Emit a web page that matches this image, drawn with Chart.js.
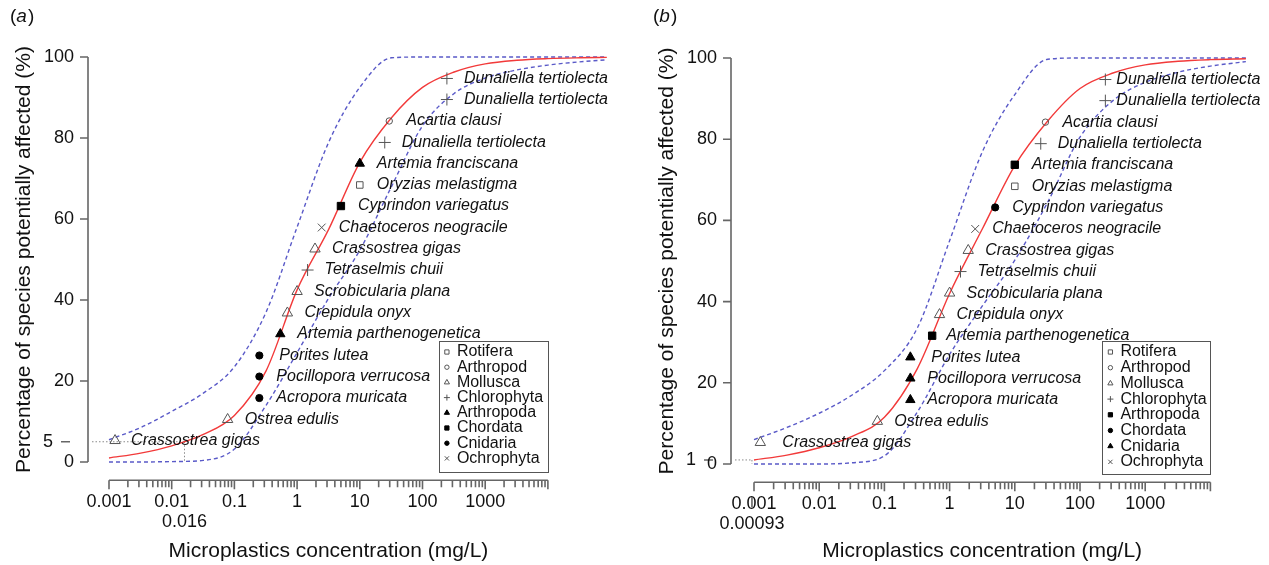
<!DOCTYPE html>
<html>
<head>
<meta charset="utf-8">
<script src="https://cdn.jsdelivr.net/npm/chart.js@4.4.1/dist/chart.umd.min.js"></script>
<style>
  body { margin: 0; background: #fff; }
  #wrap { position: relative; width: 1269px; height: 565px; }
  canvas { position: absolute; top: 0; }
</style>
</head>
<body>
<div id="wrap">
  <canvas id="chartA" width="634" height="565" style="left:0"></canvas>
  <canvas id="chartB" width="635" height="565" style="left:634px"></canvas>
</div>
<script>
// species ranked from least to most sensitive... bottom to top on the SSD
var species = ['Crassostrea gigas', 'Ostrea edulis', 'Acropora muricata', 'Pocillopora verrucosa',
  'Porites lutea', 'Artemia parthenogenetica', 'Crepidula onyx', 'Scrobicularia plana',
  'Tetraselmis chuii', 'Crassostrea gigas', 'Chaetoceros neogracile', 'Cyprindon variegatus',
  'Oryzias melastigma', 'Artemia franciscana', 'Dunaliella tertiolecta', 'Acartia clausi',
  'Dunaliella tertiolecta', 'Dunaliella tertiolecta'];
var groups = ['Mollusca', 'Mollusca', 'Cnidaria', 'Cnidaria', 'Cnidaria', 'Arthropoda', 'Mollusca',
  'Mollusca', 'Chlorophyta', 'Mollusca', 'Ochrophyta', 'Chordata', 'Rotifera', 'Arthropoda',
  'Chlorophyta', 'Arthropod', 'Chlorophyta', 'Chlorophyta'];
var conc = [0.00125, 0.078, 0.25, 0.25, 0.25, 0.54, 0.70, 1.0, 1.47, 1.93, 2.47, 5.0, 10, 10, 25, 29.5, 245, 245];
var affected = [5.3, 10.5, 15.8, 21.1, 26.3, 31.6, 36.8, 42.1, 47.4, 52.6, 57.9, 63.2, 68.4, 73.7, 78.9, 84.2, 89.5, 94.7];

var phyla = ['Rotifera', 'Arthropod', 'Mollusca', 'Chlorophyta', 'Arthropoda', 'Chordata', 'Cnidaria', 'Ochrophyta'];

// fitted SSD and its confidence band
var gridA = [0.001, 0.0032, 0.01, 0.032, 0.1, 0.32, 1, 3.2, 10, 32, 100, 320, 1000, 3200, 10000, 32000, 87000];
var fitA = [1.0, 2.2, 4.0, 6.8, 11.5, 22.5, 42.5, 57.5, 74, 85, 92.5, 96.3, 98.3, 99.2, 99.6, 99.8, 99.9];
var upperA = [5.5, 8.5, 12.5, 17, 23.5, 37, 58, 79, 92.5, 99.8, 100, 100, 100, 100, 100, 100, 100];
var lowerA = [0, 0, 0.1, 0.4, 3.2, 14, 27, 40.5, 52.3, 68, 83, 91, 94.8, 96.8, 98, 98.8, 99.3];

var gridB = [0.001, 0.0032, 0.01, 0.032, 0.1, 0.32, 1, 3.2, 10, 32, 100, 320, 1000, 3200, 10000, 35000];
var fitB = [1.0, 2.2, 4.0, 6.8, 11.5, 23.5, 42, 58, 73.5, 84.5, 92.5, 96.3, 98.3, 99.2, 99.6, 99.8];
var upperB = [6, 9, 12.5, 17, 23, 33.5, 55, 77, 91, 99.7, 100, 100, 100, 100, 100, 100];
var lowerB = [0, 0, 0, 0.3, 2, 12.8, 27, 39, 50.2, 64.5, 80.5, 89.5, 94, 96.5, 98, 99.1];

// hazard concentrations: HC5 in (a), HC1 in (b)
var hcLevel = [5, 1];
var hcConc = [0.016, 0.00093];
var hcLabel = ['0.016', '0.00093'];

var xTicks = [0.001, 0.01, 0.1, 1, 10, 100, 1000];
var xTickLabels = ['0.001', '0.01', '0.1', '1', '10', '100', '1000'];
var yTicks = [0, 20, 40, 60, 80, 100];

var FONT = '"Liberation Sans", Arial, sans-serif';

var symbolsA = {
  Rotifera: ['rect', false], Arthropod: ['circle', false], Mollusca: ['triangle', false],
  Chlorophyta: ['cross', false], Arthropoda: ['triangle', true], Chordata: ['rect', true],
  Cnidaria: ['circle', true], Ochrophyta: ['crossRot', false]
};
var symbolsB = {
  Rotifera: ['rect', false], Arthropod: ['circle', false], Mollusca: ['triangle', false],
  Chlorophyta: ['cross', false], Arthropoda: ['rect', true], Chordata: ['circle', true],
  Cnidaria: ['triangle', true], Ochrophyta: ['crossRot', false]
};

function markerRadius(style, filled) {
  if (style === 'rect') return filled ? 5.2 : 4.6;
  if (style === 'circle') return filled ? 3.6 : 3.2;
  if (style === 'triangle') return filled ? 5.4 : 6;
  if (style === 'cross') return 6;
  return 5.5;
}

function drawMarker(ctx, style, filled, x, y, r) {
  ctx.beginPath();
  if (style === 'rect') {
    var h = r * Math.SQRT1_2;
    ctx.rect(x - h, y - h, 2 * h, 2 * h);
  } else if (style === 'circle') {
    ctx.arc(x, y, r, 0, Math.PI * 2);
  } else if (style === 'triangle') {
    ctx.moveTo(x, y - r);
    ctx.lineTo(x + r * 0.866, y + r * 0.5);
    ctx.lineTo(x - r * 0.866, y + r * 0.5);
    ctx.closePath();
  } else if (style === 'cross') {
    ctx.moveTo(x - r, y); ctx.lineTo(x + r, y);
    ctx.moveTo(x, y - r); ctx.lineTo(x, y + r);
  } else {
    var d = r * Math.SQRT1_2;
    ctx.moveTo(x - d, y - d); ctx.lineTo(x + d, y + d);
    ctx.moveTo(x - d, y + d); ctx.lineTo(x + d, y - d);
  }
  if (filled) { ctx.fillStyle = '#000'; ctx.fill(); }
  ctx.strokeStyle = filled ? '#000' : '#555';
  ctx.lineWidth = 1;
  ctx.stroke();
}

function curve(grid, vals, color, dash) {
  return {
    type: 'line',
    data: grid.map(function (g, i) { return { x: g, y: vals[i] }; }),
    borderColor: color,
    borderWidth: 1.4,
    borderDash: dash,
    pointRadius: 0,
    cubicInterpolationMode: 'monotone',
    fill: false
  };
}

function pointSets(symbols) {
  return phyla.map(function (ph) {
    var s = symbols[ph];
    var pts = [];
    for (var i = 0; i < species.length; i++) {
      if (groups[i] === ph) pts.push({ x: conc[i], y: affected[i] });
    }
    return {
      type: 'scatter',
      label: ph,
      data: pts,
      pointStyle: s[0],
      pointRadius: markerRadius(s[0], s[1]),
      pointBorderWidth: 1,
      pointBorderColor: s[1] ? '#000' : '#555',
      pointBackgroundColor: s[1] ? '#000' : 'rgba(0,0,0,0)'
    };
  });
}

function overlay(p) {
  return {
    id: 'overlay' + p.letter,
    beforeDatasetsDraw: function (chart) {
      var ctx = chart.ctx, xs = chart.scales.x, ys = chart.scales.y;
      var left = chart.chartArea.left;
      var hx = xs.getPixelForValue(hcConc[p.idx]);
      var hy = ys.getPixelForValue(hcLevel[p.idx]);
      ctx.save();
      ctx.strokeStyle = '#8a8a8a';
      ctx.lineWidth = 1;
      ctx.setLineDash([1.5, 2]);
      ctx.beginPath();
      ctx.moveTo(left + 4, hy); ctx.lineTo(hx, hy);
      ctx.moveTo(hx, hy); ctx.lineTo(hx, ys.getPixelForValue(0));
      ctx.stroke();
      ctx.restore();
    },
    afterDraw: function (chart) {
      var ctx = chart.ctx, xs = chart.scales.x, ys = chart.scales.y;
      var area = chart.chartArea;
      var left = area.left, y0 = area.bottom + 2;
      var x1 = xs.getPixelForValue(0.001), x2 = xs.getPixelForValue(10000);
      ctx.save();
      ctx.strokeStyle = '#666';
      ctx.lineWidth = 1.6;
      ctx.fillStyle = '#111';

      // y axis
      ctx.beginPath();
      ctx.moveTo(left, ys.getPixelForValue(0));
      ctx.lineTo(left, ys.getPixelForValue(100));
      yTicks.forEach(function (v) {
        var y = ys.getPixelForValue(v);
        ctx.moveTo(left - 8, y); ctx.lineTo(left, y);
      });
      var hy = ys.getPixelForValue(hcLevel[p.idx]);
      ctx.moveTo(left - 27, hy); ctx.lineTo(left - 18, hy);
      ctx.stroke();
      ctx.font = '18px ' + FONT;
      ctx.textAlign = 'right';
      ctx.textBaseline = 'middle';
      yTicks.forEach(function (v) {
        ctx.fillText(String(v), left - 14, ys.getPixelForValue(v));
      });
      ctx.fillText(String(hcLevel[p.idx]), left - 35, hy);

      // x axis
      ctx.beginPath();
      ctx.moveTo(x1, y0); ctx.lineTo(x2, y0);
      for (var d = -3; d <= 4; d++) {
        var base = Math.pow(10, d);
        var xp = xs.getPixelForValue(base);
        ctx.moveTo(xp, y0); ctx.lineTo(xp, y0 + 9);
        if (d < 4) {
          for (var k = 2; k <= 9; k++) {
            var xm = xs.getPixelForValue(k * base);
            ctx.moveTo(xm, y0); ctx.lineTo(xm, y0 + 7);
          }
        }
      }
      if (p.hcTick) {
        var hx = xs.getPixelForValue(hcConc[p.idx]);
        ctx.moveTo(hx, y0 + 15); ctx.lineTo(hx, y0 + 25);
      }
      ctx.stroke();
      ctx.textAlign = 'center';
      xTicks.forEach(function (v, i) {
        ctx.fillText(xTickLabels[i], xs.getPixelForValue(v), y0 + 22);
      });
      ctx.fillText(hcLabel[p.idx], xs.getPixelForValue(hcConc[p.idx]), y0 + 42);

      // axis titles
      ctx.font = '21px ' + FONT;
      ctx.fillText('Microplastics concentration (mg/L)', (x1 + x2) / 2, chart.height - 14);
      ctx.save();
      ctx.translate(left - 64, (ys.getPixelForValue(0) + ys.getPixelForValue(100)) / 2);
      ctx.rotate(-Math.PI / 2);
      ctx.fillText('Percentage of species potentially affected (%)', 0, 0);
      ctx.restore();

      // panel letter
      ctx.textAlign = 'left';
      ctx.font = '19px ' + FONT;
      var lx = left - 78;
      ctx.fillText('(', lx, 17);
      lx += ctx.measureText('(').width;
      ctx.font = 'italic 19px ' + FONT;
      ctx.fillText(p.letter, lx, 17);
      lx += ctx.measureText(p.letter).width + 1;
      ctx.font = '19px ' + FONT;
      ctx.fillText(')', lx, 17);

      // species labels
      ctx.font = 'italic 16px ' + FONT;
      for (var i = 0; i < species.length; i++) {
        var dx = p.labelDx[i] !== undefined ? p.labelDx[i] : 17;
        ctx.fillText(species[i], xs.getPixelForValue(conc[i]) + dx, ys.getPixelForValue(affected[i]));
      }

      // legend
      var bw = p.legendW, bh = p.legendH;
      var bx = x2 - bw, by = p.legendTop;
      ctx.lineWidth = 1;
      ctx.strokeStyle = '#555';
      ctx.strokeRect(Math.round(bx) + 0.5, by + 0.5, bw, bh);
      ctx.font = '16px ' + FONT;
      phyla.forEach(function (ph, j) {
        var yy = by + 11 + j * p.rowGap;
        var s = p.symbols[ph];
        drawMarker(ctx, s[0], s[1], bx + 8, yy, s[0] === 'circle' ? 2.2 : 3);
        ctx.fillStyle = '#111';
        ctx.fillText(ph, bx + 18, yy);
      });
      ctx.restore();
    }
  };
}

function makeChart(id, p, grid, fit, upper, lower) {
  var blue = '#5a5ac8';
  var datasets = pointSets(p.symbols).concat([
    curve(grid, fit, '#f23a3a', []),
    curve(grid, upper, blue, [4, 3]),
    curve(grid, lower, blue, [4, 3])
  ]);
  return new Chart(document.getElementById(id), {
    type: 'scatter',
    data: { datasets: datasets },
    options: {
      responsive: false,
      animation: false,
      devicePixelRatio: 1,
      events: [],
      layout: { padding: p.padding },
      plugins: { legend: { display: false }, tooltip: { enabled: false } },
      scales: {
        x: { type: 'logarithmic', min: p.xMin, max: p.xMax, bounds: 'data', display: false },
        y: { type: 'linear', min: -4, max: 104, bounds: 'data', display: false }
      }
    },
    plugins: [overlay(p)]
  });
}

var panelA = {
  letter: 'a', idx: 0, symbols: symbolsA, hcTick: false,
  padding: { left: 88, right: 11, top: 40.8, bottom: 86.8 },
  xMin: 4.625e-4, xMax: 157700,
  legendTop: 341, legendW: 109, legendH: 131, rowGap: 15.2,
  labelDx: { 0: 16, 4: 20 }
};
var panelB = {
  letter: 'b', idx: 1, symbols: symbolsB, hcTick: true,
  padding: { left: 97, right: 13, top: 41.76, bottom: 84.76 },
  xMin: 4.438e-4, xMax: 50050,
  legendTop: 341, legendW: 108, legendH: 133, rowGap: 15.7,
  labelDx: { 0: 22, 4: 21, 5: 14, 16: 11, 17: 11 }
};

makeChart('chartA', panelA, gridA, fitA, upperA, lowerA);
makeChart('chartB', panelB, gridB, fitB, upperB, lowerB);
</script>
</body>
</html>
